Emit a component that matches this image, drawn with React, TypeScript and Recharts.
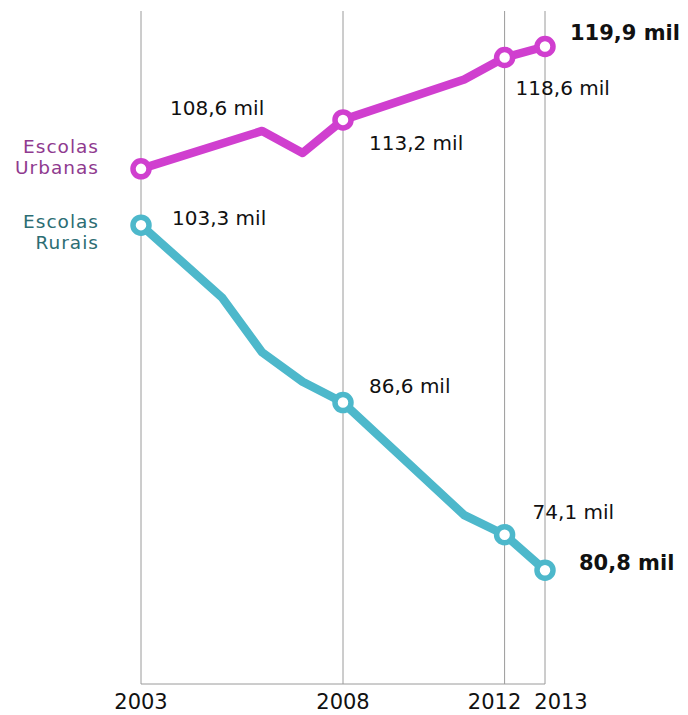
import React from "react";
import { LineChart, Line, XAxis, YAxis, CartesianGrid } from "recharts";

const tickYears = [2003, 2008, 2012, 2013];

const urbanYears = [2003, 2006, 2007, 2008, 2011, 2012, 2013];
const urbanValues = [112.1, 115.2, 113.4, 116.1, 119.4, 121.2, 122.1];
const urbanLabels = ["108,6 mil", "113,2 mil", "118,6 mil", "119,9 mil"];

const ruralYears = [2003, 2005, 2006, 2007, 2008, 2011, 2012, 2013];
const ruralValues = [107.5, 101.6, 97.1, 94.7, 93.0, 83.8, 82.2, 79.3];
const ruralLabels = ["103,3 mil", "86,6 mil", "74,1 mil", "80,8 mil"];

const urbanData = urbanYears.map((year, i) => ({ year, value: urbanValues[i] }));
const ruralData = ruralYears.map((year, i) => ({ year, value: ruralValues[i] }));

const URBAN = "#D03FCF";
const RURAL = "#4DB8CB";
const URBAN_TEXT = "#8F3A8F";
const RURAL_TEXT = "#2C6D73";
const FONT = "'DejaVu Sans', sans-serif";

// label offsets relative to marked points (pixels)
const urbanOffsets = [
  { dx: 29, dy: -54 },
  { dx: 26, dy: 30 },
  { dx: 11, dy: 38 },
  { dx: 25, dy: -6 },
];
const ruralOffsets = [
  { dx: 31, dy: 0 },
  { dx: 26, dy: -10 },
  { dx: 28, dy: -16 },
  { dx: 34, dy: 0 },
];
const tickShift = [0, 0, -10, 16];

const makeDot = (color: string, years: number[]) => (props: any) => {
  const { cx, cy, index } = props;
  const year = years[index];
  if (!tickYears.includes(year) || cx == null || cy == null) {
    return <g key={`d-${index}`} />;
  }
  return (
    <circle
      key={`d-${index}`}
      cx={cx}
      cy={cy}
      r={8}
      fill="#fff"
      stroke={color}
      strokeWidth={5.5}
    />
  );
};

const makeLabel =
  (
    years: number[],
    labels: string[],
    offsets: { dx: number; dy: number }[],
    name: string[],
    nameColor: string,
    nameDy: number
  ) =>
  (props: any) => {
    const { x, y, index } = props;
    const year = years[index];
    const k = tickYears.indexOf(year);
    if (k < 0 || x == null || y == null) return <g key={`l-${index}`} />;
    const bold = k === tickYears.length - 1;
    return (
      <g key={`l-${index}`}>
        <text
          x={x + offsets[k].dx}
          y={y + offsets[k].dy}
          fontFamily={FONT}
          fontSize={bold ? 21 : 20}
          fontWeight={bold ? 700 : 400}
          fill="#111"
        >
          {labels[k]}
        </text>
        {k === 0 &&
          name.map((line, j) => (
            <text
              key={j}
              x={x - 42}
              y={y + nameDy + j * 21}
              textAnchor="end"
              fontFamily={FONT}
              fontSize={18.5}
              letterSpacing={1}
              fill={nameColor}
            >
              {line}
            </text>
          ))}
      </g>
    );
  };

const YearTick = (props: any) => {
  const { x, y, payload } = props;
  const k = tickYears.indexOf(payload.value);
  return (
    <text
      x={x + (k >= 0 ? tickShift[k] : 0)}
      y={y + 17}
      textAnchor="middle"
      fontFamily={FONT}
      fontSize={21}
      fill="#111"
    >
      {payload.value}
    </text>
  );
};

export default function App() {
  return (
    <LineChart
      width={680}
      height={707}
      margin={{ top: 3, right: 143, left: 133, bottom: 0 }}
    >
      <CartesianGrid horizontal={false} stroke="#9a9a9a" strokeWidth={1} />
      <XAxis
        dataKey="year"
        type="number"
        domain={[2003, 2013]}
        ticks={tickYears}
        allowDuplicatedCategory={false}
        height={31}
        tickLine={false}
        axisLine={{ stroke: "#9a9a9a" }}
        tick={<YearTick />}
        interval={0}
      />
      <YAxis hide type="number" domain={[70, 125]} />
      <Line
        data={urbanData}
        dataKey="value"
        type="linear"
        stroke={URBAN}
        strokeWidth={8.5}
        strokeLinejoin="round"
        dot={makeDot(URBAN, urbanYears)}
        activeDot={false}
        label={makeLabel(urbanYears, urbanLabels, urbanOffsets, ["Escolas", "Urbanas"], URBAN_TEXT, -16)}
        isAnimationActive={false}
      />
      <Line
        data={ruralData}
        dataKey="value"
        type="linear"
        stroke={RURAL}
        strokeWidth={8.5}
        strokeLinejoin="round"
        dot={makeDot(RURAL, ruralYears)}
        activeDot={false}
        label={makeLabel(ruralYears, ruralLabels, ruralOffsets, ["Escolas", "Rurais"], RURAL_TEXT, 3)}
        isAnimationActive={false}
      />
    </LineChart>
  );
}
